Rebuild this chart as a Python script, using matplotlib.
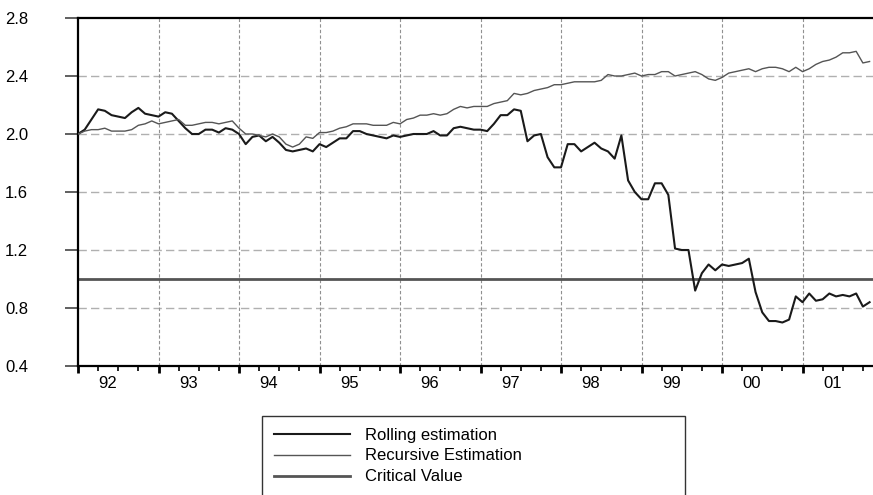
import numpy as np
import matplotlib
matplotlib.use("Agg")
import matplotlib.pyplot as plt

plt.rcParams['font.family'] = ['Liberation Sans', 'DejaVu Sans']

# monthly data, 1992M01 .. 2001M11
start_year = 1992
rolling = [2.00, 2.03, 2.10, 2.17, 2.16, 2.13, 2.12, 2.11, 2.15, 2.18,
           2.14, 2.13, 2.12, 2.15, 2.14, 2.09, 2.04, 2.00, 2.00, 2.03,
           2.03, 2.01, 2.04, 2.03, 2.00, 1.93, 1.98, 1.99, 1.95, 1.98,
           1.94, 1.89, 1.88, 1.89, 1.90, 1.88, 1.93, 1.91, 1.94, 1.97,
           1.97, 2.02, 2.02, 2.00, 1.99, 1.98, 1.97, 1.99, 1.98, 1.99,
           2.00, 2.00, 2.00, 2.02, 1.99, 1.99, 2.04, 2.05, 2.04, 2.03,
           2.03, 2.02, 2.07, 2.13, 2.13, 2.17, 2.16, 1.95, 1.99, 2.00,
           1.84, 1.77, 1.77, 1.93, 1.93, 1.88, 1.91, 1.94, 1.90, 1.88,
           1.83, 1.99, 1.68, 1.60, 1.55, 1.55, 1.66, 1.66, 1.58, 1.21,
           1.20, 1.20, 0.92, 1.04, 1.10, 1.06, 1.10, 1.09, 1.10, 1.11,
           1.14, 0.91, 0.77, 0.71, 0.71, 0.70, 0.72, 0.88, 0.84, 0.90,
           0.85, 0.86, 0.90, 0.88, 0.89, 0.88, 0.90, 0.81, 0.84]
recursive = [2.00, 2.02, 2.03, 2.03, 2.04, 2.02, 2.02, 2.02, 2.03, 2.06,
             2.07, 2.09, 2.07, 2.08, 2.09, 2.10, 2.06, 2.06, 2.07, 2.08,
             2.08, 2.07, 2.08, 2.09, 2.04, 2.00, 2.00, 1.99, 1.98, 2.00,
             1.98, 1.93, 1.91, 1.93, 1.98, 1.97, 2.01, 2.01, 2.02, 2.04,
             2.05, 2.07, 2.07, 2.07, 2.06, 2.06, 2.06, 2.08, 2.07, 2.10,
             2.11, 2.13, 2.13, 2.14, 2.13, 2.14, 2.17, 2.19, 2.18, 2.19,
             2.19, 2.19, 2.21, 2.22, 2.23, 2.28, 2.27, 2.28, 2.30, 2.31,
             2.32, 2.34, 2.34, 2.35, 2.36, 2.36, 2.36, 2.36, 2.37, 2.41,
             2.40, 2.40, 2.41, 2.42, 2.40, 2.41, 2.41, 2.43, 2.43, 2.40,
             2.41, 2.42, 2.43, 2.41, 2.38, 2.37, 2.39, 2.42, 2.43, 2.44,
             2.45, 2.43, 2.45, 2.46, 2.46, 2.45, 2.43, 2.46, 2.43, 2.45,
             2.48, 2.50, 2.51, 2.53, 2.56, 2.56, 2.57, 2.49, 2.50]
critical = 1.0
year_labels = ['92', '93', '94', '95', '96', '97', '98', '99', '00', '01']
y_ticks = [0.4, 0.8, 1.2, 1.6, 2.0, 2.4, 2.8]

t = start_year + np.arange(len(rolling)) / 12.0

fig = plt.figure(figsize=(8.73, 4.95), dpi=100)
ax = fig.add_axes([78/873, 129/495, 795/873, 348/495])

# grid
for yv in y_ticks[1:-1]:
    ax.axhline(yv, color='#b0b0b0', lw=1, ls=(0, (6, 3)), zorder=1)
for k in range(1, len(year_labels)):
    ax.axvline(start_year + k, color='#909090', lw=0.8, ls=(0, (3, 2)), zorder=1)

ax.plot(t, rolling, color='#1a1a1a', lw=1.5, zorder=3, label='Rolling estimation')
ax.plot(t, recursive, color='#555555', lw=1.0, zorder=3, label='Recursive Estimation')
ax.axhline(critical, color='#555555', lw=2.0, zorder=2, label='Critical Value')

ax.set_ylim(0.4, 2.8)
ax.set_xlim(start_year, start_year + 795/80.5)
ax.set_yticks(y_ticks)
ax.set_yticklabels(['%.1f' % v for v in y_ticks])
ax.tick_params(axis='y', length=9.5, width=1.2, color='#444444', pad=43,
               labelsize=12)
for lab in ax.get_yticklabels():
    lab.set_horizontalalignment('left')

ax.set_xticks([start_year + k for k in range(len(year_labels))])
ax.set_xticks(start_year + np.arange(0, 10, 0.25), minor=True)
ax.set_xticklabels([])
ax.tick_params(axis='x', which='major', length=5, width=2, color='black')
ax.tick_params(axis='x', which='minor', length=3.5, width=1.2, color='black')
for k, lab in enumerate(year_labels):
    ax.text(start_year + k + 0.37, -0.05, lab, transform=ax.get_xaxis_transform(),
            ha='center', va='center', fontsize=12)

for side in ['left', 'top', 'bottom']:
    ax.spines[side].set_linewidth(1.6)
    ax.spines[side].set_color('black')
ax.spines['right'].set_visible(False)

leg = fig.legend(loc='upper left', bbox_to_anchor=(262/873, 0, 423/873, 1 - 416/495),
                 mode='expand', borderaxespad=0,
                 fontsize=12, handlelength=4.6, handletextpad=0.9, labelspacing=0.35,
                 frameon=True, fancybox=False, borderpad=0.7)
leg.get_frame().set_edgecolor('black')
leg.get_frame().set_linewidth(1.0)

fig.savefig('out.png', dpi=100)
